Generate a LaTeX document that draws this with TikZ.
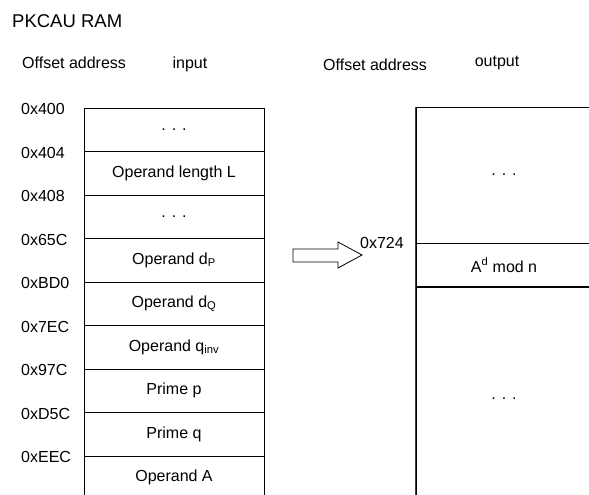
\documentclass[tikz,border=0pt]{standalone}
\usepackage{fontspec}
\setmainfont{Liberation Sans}
\usetikzlibrary{positioning}

\begin{document}
\begin{tikzpicture}[x=1pt, y=-1pt, font=\fontsize{16}{19}\selectfont,
  cell/.style={draw, line width=0.9pt, minimum width=180pt, minimum height=43.5pt, inner sep=0pt},
  outcell/.style={cell, minimum width=176pt},
  addr/.style={anchor=west, inner sep=0pt}]
  \clip (0,0) rectangle (589,495);
  \fill[white] (0,0) rectangle (589,495);
  \newcommand{\gap}{.\hspace{6pt}.\hspace{6pt}.}
  % headings
  \node[addr, font=\fontsize{18.5}{22}\selectfont] (title) at (12,21) {PKCAU RAM};
  \node[addr] (offin) at (22,63) {Offset address};
  \node (input) at (190,64) {input};
  \node[addr] (offout) at (323,65) {Offset address};
  \node (output) at (497,63) {output};
  % input area
  \foreach \i/\a/\t in {0/0x400/\gap, 1/0x404/{Operand length L}, 2/0x408/\gap,
      3/0x65C/{Operand d\textsubscript{P}}, 4/0xBD0/{Operand d\textsubscript{Q}},
      5/0x7EC/{Operand q\textsubscript{inv}}, 6/0x97C/{Prime p}, 7/0xD5C/{Prime q},
      8/0xEEC/{Operand A}} {
    \node[cell] (in\i) at (174, 129.75+43.5*\i) {\t};
    \node[addr] (a\i) at (21, 109+43.5*\i) {\a};
  }
  % output area
  \node[outcell, minimum height=136pt] (out0) at (504,175) {\gap};
  \node[outcell, minimum height=44pt] (out1) at (504,265) {A\textsuperscript{d} mod n};
  \node[outcell, minimum height=224pt] (out2) at (504,399) {\gap};
  \draw[line width=1.6pt] (out2.north west) -- (out2.north east);
  \draw[line width=1.6pt, black!75] (out0.north west) -- (out2.south west);
  \node[addr] (a724) at (360,243) {0x724};
  % hollow arrow
  \draw[line width=0.8pt, line join=miter] (293,249) -- (338,249) -- (338,242) -- (362,255)
    -- (338,268) -- (338,262) -- (293,262) -- cycle;
\end{tikzpicture}
\end{document}
